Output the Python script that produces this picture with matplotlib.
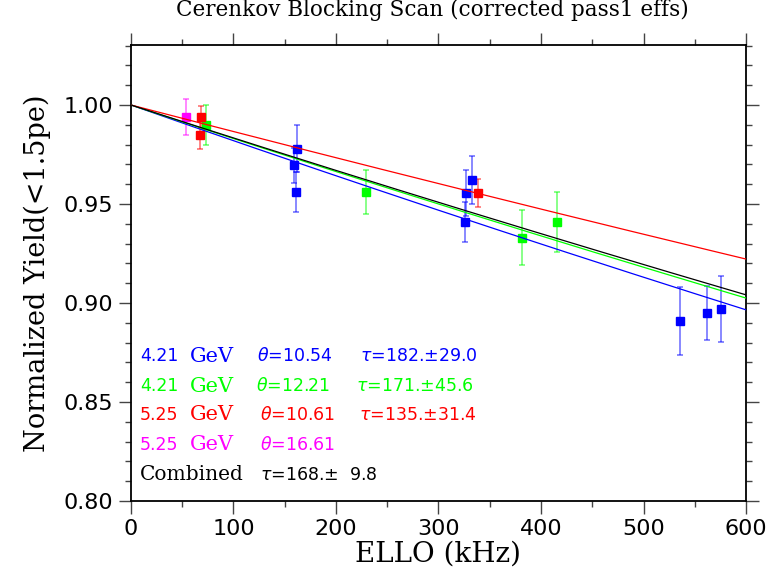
"""
Cerenkov blocking scan: normalized yield vs ELLO rate with exponential fits
"""
import matplotlib
matplotlib.use('Agg')
import matplotlib.pyplot as plt
from matplotlib.ticker import MultipleLocator, FormatStrFormatter
import numpy as np

# data
blue_x = [159.0, 161.6, 161.0, 326.5, 326.0, 332.4, 536.0, 561.6, 575.3]
blue_y = [0.9695, 0.978, 0.956, 0.9556, 0.9409, 0.962, 0.891, 0.895, 0.897]
blue_err = [0.009, 0.012, 0.010, 0.0115, 0.010, 0.012, 0.0173, 0.0138, 0.0168]

green_x = [73.2, 229.3, 381.2, 415.9]
green_y = [0.990, 0.956, 0.933, 0.941]
green_err = [0.010, 0.011, 0.0138, 0.015]

red_x = [68.6, 67.6, 338.2]
red_y = [0.994, 0.985, 0.9556]
red_err = [0.0054, 0.0072, 0.007]

magenta_x = [53.7]
magenta_y = [0.994]
magenta_err = [0.0091]

# fitted dead times (ns), yield = exp(-rate * tau)
tau_blue = 182.0
tau_green = 171.0
tau_red = 135.0
tau_comb = 168.0

COLORS = {
    'blue': '#0000ff',
    'green': '#00ff00',
    'red': '#ff0000',
    'magenta': '#ff00ff',
}

SANS = 'DejaVu Sans'
SERIF = 'DejaVu Serif'

fig = plt.figure(figsize=(7.66, 5.79), dpi=100)
ax = fig.add_axes([0.1710, 0.1347, 0.8029, 0.7876])

series = [
    (blue_x, blue_y, blue_err, COLORS['blue']),
    (green_x, green_y, green_err, COLORS['green']),
    (red_x, red_y, red_err, COLORS['red']),
    (magenta_x, magenta_y, magenta_err, COLORS['magenta']),
]
for xs, ys, es, c in series:
    ax.errorbar(xs, ys, yerr=es, fmt='none', ecolor=c, alpha=0.5,
                elinewidth=1.3, capsize=2.5, capthick=1.3, zorder=2)
    ax.plot(xs, ys, 's', color=c, markersize=5.5, zorder=3)

# fit curves
xf = np.linspace(0, 600, 200)
for tau, c in [(tau_blue, COLORS['blue']), (tau_green, COLORS['green']),
               (tau_red, COLORS['red']), (tau_comb, 'black')]:
    ax.plot(xf, np.exp(-xf * tau * 1e-6), color=c, linewidth=0.9, zorder=4)

ax.set_xlim(0, 600)
ax.set_ylim(0.80, 1.0303)
ax.xaxis.set_major_locator(MultipleLocator(100))
ax.xaxis.set_minor_locator(MultipleLocator(50))
ax.yaxis.set_major_locator(MultipleLocator(0.05))
ax.yaxis.set_minor_locator(MultipleLocator(0.01))
ax.yaxis.set_major_formatter(FormatStrFormatter('%.2f'))

ax.tick_params(which='both', direction='out', top=True, right=True,
               width=1.0, color='#444444')
ax.tick_params(which='major', length=9, labelsize=16, pad=4)
ax.tick_params(which='minor', length=4.5)
for lab in ax.get_xticklabels() + ax.get_yticklabels():
    lab.set_family(SANS)
for sp in ax.spines.values():
    sp.set_linewidth(1.3)

ax.set_xlabel('ELLO (kHz)', family=SERIF, fontsize=20, labelpad=1)
ax.set_ylabel('Normalized Yield(<1.5pe)', family=SERIF, fontsize=19.5, labelpad=9)

fig.text(0.5645, 0.983, 'Cerenkov Blocking Scan (corrected pass1 effs)',
         family=SERIF, fontsize=15.5, ha='center', va='center')

# legend block, written as separate pieces like the original
def px(x):
    return x / 766.0

def py(y):
    return 1 - y / 579.0

rows = [
    ('4.21', r'$\theta$=10.54', r'$\tau$=182.$\pm$29.0', COLORS['blue'], 257, 360),
    ('4.21', r'$\theta$=12.21', r'$\tau$=171.$\pm$45.6', COLORS['green'], 256, 356),
    ('5.25', r'$\theta$=10.61', r'$\tau$=135.$\pm$31.4', COLORS['red'], 260, 359),
    ('5.25', r'$\theta$=16.61', None, COLORS['magenta'], 260, None),
]
row_y = [356, 386, 415, 445]
for (e, th, ta, c, thx, tax), yy in zip(rows, row_y):
    fig.text(px(140), py(yy), e, family=SANS, fontsize=12.5, color=c, va='center')
    fig.text(px(190), py(yy), 'GeV', family=SERIF, fontsize=15, color=c, va='center')
    fig.text(px(thx), py(yy), th, family=SANS, fontsize=12.5, color=c, va='center')
    if ta:
        fig.text(px(tax), py(yy), ta, family=SANS, fontsize=12.5, color=c, va='center')

fig.text(px(140), py(475), 'Combined', family=SERIF, fontsize=14.5, color='black', va='center')
fig.text(px(260), py(475), r'$\tau$=168.$\pm$  9.8', family=SANS, fontsize=12.5,
         color='black', va='center')

fig.savefig('out.png', dpi=100, facecolor='white')
plt.close(fig)
